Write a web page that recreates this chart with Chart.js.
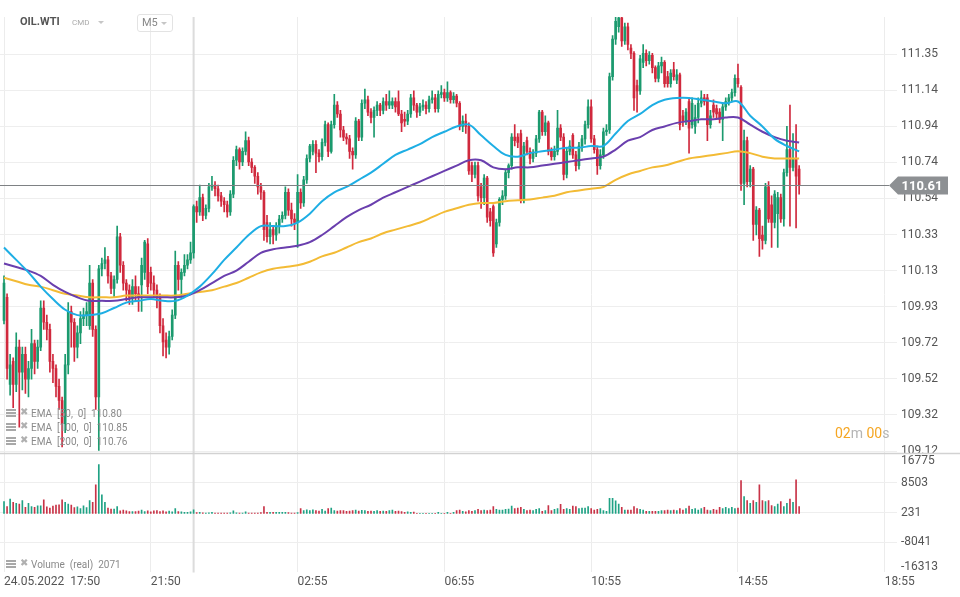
<!DOCTYPE html>
<html><head><meta charset="utf-8">
<script src="https://cdn.jsdelivr.net/npm/chart.js@4.4.0/dist/chart.umd.min.js"></script>
<style>
html,body{margin:0;padding:0;background:#fff;}
#wrap{position:relative;width:960px;height:597px;overflow:hidden;font-family:Roboto,"Noto Sans",sans-serif;}
#c{position:absolute;left:0;top:0;}
.ov{position:absolute;white-space:pre;}
.tri{position:absolute;width:0;height:0;border-left:3px solid transparent;border-right:3px solid transparent;border-top:3px solid #c6c6c6;}
.ico{position:absolute;width:10px;height:8px;background:repeating-linear-gradient(#a8a8a8 0 2px,transparent 2px 3px);}
.lg{position:absolute;white-space:pre;font-size:10px;line-height:12px;color:#8a8a8a;}
.x{position:absolute;font-size:10px;line-height:10px;color:#b0b0b0;}
</style></head><body>
<div id="wrap">
<canvas id="c" width="960" height="597"></canvas>
<div class="ov" style="left:20px;top:15px;font-weight:bold;font-size:11px;line-height:14px;color:#555;">OIL.WTI</div>
<div class="ov" style="left:72px;top:18px;font-size:8px;line-height:10px;color:#aaa;">CMD</div>
<div class="tri" style="left:98px;top:21px;"></div>
<div class="ov" style="left:137px;top:14px;width:34px;height:16px;border:1px solid #e3e3e3;border-radius:3px;"></div>
<div class="ov" style="left:142px;top:15.5px;font-size:11px;line-height:14px;color:#888;">M5</div>
<div class="tri" style="left:161px;top:22px;"></div>

<div class="ico" style="left:6px;top:409px;"></div><div class="x" style="left:20px;top:407px;">✖</div>
<div class="lg" style="left:31px;top:408px;">EMA  [50,  0]  110.80</div>
<div class="ico" style="left:6px;top:423px;"></div><div class="x" style="left:20px;top:421px;">✖</div>
<div class="lg" style="left:31px;top:422px;">EMA  [100,  0]  110.85</div>
<div class="ico" style="left:6px;top:437px;"></div><div class="x" style="left:20px;top:435px;">✖</div>
<div class="lg" style="left:31px;top:436px;">EMA  [200,  0]  110.76</div>
<div class="ico" style="left:6px;top:560px;"></div><div class="x" style="left:20px;top:558px;">✖</div>
<div class="lg" style="left:31px;top:559px;">Volume  (real)  2071</div>

<div class="ov" style="left:835px;top:425px;font-size:14px;line-height:16px;"><span style="color:#f5a623">02</span><span style="color:#b4b4b4">m </span><span style="color:#f5a623">00</span><span style="color:#b4b4b4">s</span></div>
</div>
<script>
// ---------- data ----------
const timeLabels = ["24.05.2022  17:50","21:50","02:55","06:55","10:55","14:55","18:55"];
const timeTickIndex = [0,48,96,144,192,240,288];
const daySeparatorIndex = 62;
const priceTickLabels = ["109.12","109.32","109.52","109.72","109.93","110.13","110.33","110.54","110.74","110.94","111.14","111.35"];
const priceTickBase = 109.116, priceTickStep = 0.2028;
const priceMin = 109.1025, priceMax = 111.5547;
const volumeTickLabels = ["-16313","-8041","231","8503","16775"];
const volumeTickValues = [-16313,-8041,231,8503,16775];
const volumeMin = -16313, volumeMax = 16775;
const lastPrice = 110.61;

const opens = [
109.85,109.98,109.49,109.62,109.49,109.70,109.56,109.66,109.52,109.58,
109.72,109.62,109.70,109.92,109.84,109.80,109.62,109.58,109.48,109.40,
109.27,109.60,109.90,109.84,109.70,109.78,109.86,109.88,109.82,110.06,
109.80,109.42,110.14,110.17,110.19,110.10,110.03,110.08,110.32,110.16,
110.06,110.02,109.98,110.04,110.00,110.05,110.12,110.28,110.12,110.06,
110.02,109.98,109.82,109.74,109.70,109.76,109.88,110.16,110.08,110.12,
110.16,110.19,110.23,110.49,110.46,110.54,110.44,110.48,110.60,110.61,
110.59,110.55,110.52,110.50,110.46,110.56,110.75,110.81,110.74,110.80,
110.86,110.74,110.71,110.66,110.60,110.57,110.40,110.32,110.36,110.33,
110.38,110.42,110.44,110.57,110.47,110.42,110.40,110.57,110.51,110.64,
110.76,110.80,110.84,110.79,110.77,110.85,110.95,110.80,110.95,111.06,
111.01,110.92,110.88,110.87,110.80,110.78,110.97,110.88,111.07,111.09,
111.02,110.99,111.03,111.06,111.03,111.08,111.06,111.06,111.08,111.08,
111.01,110.98,110.97,111.01,111.10,111.06,111.02,111.05,111.06,111.04,
111.09,111.10,111.04,111.12,111.13,111.10,111.13,111.09,111.11,111.07,
110.94,110.97,110.94,110.72,110.67,110.72,110.60,110.54,110.65,110.46,
110.49,110.28,110.40,110.53,110.55,110.68,110.72,110.88,110.88,110.90,
110.53,110.86,110.80,110.76,110.79,110.87,111.02,110.91,110.96,110.80,
110.77,110.80,110.93,110.88,110.67,110.80,110.89,110.78,110.72,110.83,
110.87,110.95,111.05,110.87,110.81,110.72,110.78,110.91,110.92,111.22,
111.43,111.50,111.55,111.42,111.50,111.38,111.35,111.17,111.14,111.30,
111.35,111.31,111.34,111.27,111.21,111.28,111.30,111.22,111.18,111.26,
111.20,111.23,111.00,110.97,111.08,110.95,110.94,110.99,111.07,111.10,
111.10,110.95,111.06,111.04,111.02,110.98,111.05,111.08,111.10,111.13,
111.21,111.16,110.62,110.86,110.63,110.70,110.39,110.47,110.33,110.30,
110.60,110.50,110.40,110.45,110.54,110.42,110.68,110.81,110.71,110.76,110.70];
const highs = [
110.10,110.00,109.66,109.64,109.78,109.74,109.70,109.70,109.62,109.80,
109.74,109.74,109.96,109.96,109.88,109.83,109.66,109.60,109.52,109.42,
109.66,109.95,109.93,109.86,109.82,109.90,109.92,109.95,110.16,110.08,
109.82,110.16,110.20,110.26,110.21,110.12,110.10,110.38,110.34,110.18,
110.08,110.05,110.08,110.10,110.04,110.20,110.30,110.31,110.15,110.10,
110.05,110.00,109.86,109.78,109.79,109.91,110.24,110.18,110.14,110.22,
110.22,110.29,110.50,110.52,110.61,110.56,110.50,110.62,110.66,110.63,
110.61,110.57,110.54,110.52,110.58,110.77,110.83,110.82,110.82,110.91,
110.88,110.76,110.72,110.68,110.62,110.58,110.44,110.40,110.38,110.40,
110.44,110.46,110.60,110.59,110.51,110.45,110.67,110.59,110.66,110.78,
110.84,110.86,110.86,110.81,110.87,110.97,110.96,110.97,111.12,111.08,
111.03,110.94,110.90,110.89,110.82,110.99,110.98,111.09,111.15,111.11,
111.04,111.05,111.08,111.07,111.10,111.12,111.14,111.10,111.10,111.14,
111.03,111.02,111.03,111.12,111.14,111.07,111.07,111.09,111.08,111.11,
111.14,111.12,111.14,111.17,111.15,111.19,111.14,111.13,111.12,111.08,
111.00,111.01,110.96,110.74,110.74,110.74,110.62,110.67,110.66,110.48,
110.50,110.42,110.54,110.58,110.70,110.73,110.90,110.95,110.90,110.92,
110.85,110.88,110.82,110.81,110.89,111.03,111.03,111.00,110.97,110.82,
110.83,111.03,110.95,110.90,110.82,110.86,110.90,110.80,110.85,110.89,
110.97,111.09,111.09,110.89,110.83,110.81,110.93,110.95,111.24,111.45,
111.57,111.58,111.56,111.52,111.52,111.40,111.36,111.20,111.34,111.40,
111.37,111.36,111.35,111.28,111.30,111.33,111.31,111.25,111.26,111.30,
111.26,111.24,111.03,111.04,111.10,111.10,111.06,111.10,111.14,111.12,
111.12,111.03,111.09,111.06,111.04,111.07,111.10,111.12,111.15,111.23,
111.29,111.17,110.92,110.88,110.72,110.71,110.49,110.48,110.38,110.62,
110.63,110.55,110.58,110.57,110.56,110.70,110.94,111.06,110.90,110.95,110.72];
const lows = [
109.83,109.52,109.43,109.36,109.45,109.25,109.46,109.44,109.42,109.52,
109.55,109.58,109.68,109.80,109.74,109.56,109.50,109.42,109.35,109.14,
109.22,109.55,109.70,109.62,109.64,109.72,109.82,109.82,109.80,109.76,
109.35,109.12,110.10,110.14,110.06,110.00,109.98,110.06,110.12,110.02,
109.96,109.94,109.94,109.96,109.90,109.90,110.08,110.00,110.02,109.98,
109.92,109.78,109.65,109.64,109.66,109.74,109.86,110.02,109.98,110.10,
110.14,110.17,110.20,110.40,110.44,110.41,110.42,110.46,110.58,110.55,
110.52,110.49,110.46,110.43,110.44,110.54,110.72,110.70,110.72,110.78,
110.72,110.68,110.62,110.56,110.53,110.30,110.29,110.28,110.28,110.30,
110.34,110.40,110.42,110.44,110.38,110.36,110.26,110.48,110.49,110.62,
110.74,110.78,110.68,110.74,110.75,110.83,110.77,110.79,110.93,110.99,
110.88,110.86,110.84,110.76,110.70,110.76,110.86,110.86,111.04,111.00,
110.96,110.88,111.00,111.00,111.01,111.03,111.04,111.04,111.02,111.00,
110.91,110.94,110.95,110.99,111.03,110.99,111.00,111.03,111.01,111.02,
111.07,111.02,111.02,111.10,111.08,111.08,111.07,111.07,111.05,110.92,
110.91,110.90,110.67,110.63,110.65,110.52,110.48,110.50,110.40,110.38,
110.21,110.26,110.38,110.50,110.53,110.65,110.70,110.83,110.82,110.51,
110.51,110.78,110.73,110.74,110.77,110.85,110.89,110.89,110.78,110.75,
110.75,110.78,110.86,110.64,110.65,110.78,110.76,110.69,110.70,110.80,
110.84,110.93,110.85,110.79,110.67,110.70,110.76,110.89,110.90,111.20,
111.40,111.47,111.39,111.40,111.37,111.32,111.03,111.02,111.12,111.27,
111.28,111.29,111.24,111.19,111.19,111.24,111.16,111.16,111.16,111.20,
111.18,110.92,110.94,110.95,110.79,110.93,110.90,110.96,111.05,111.06,
110.86,110.93,110.99,110.98,110.96,110.86,111.03,111.06,111.08,111.11,
111.16,110.58,110.50,110.60,110.60,110.30,110.33,110.21,110.25,110.28,
110.40,110.26,110.37,110.26,110.40,110.38,110.66,110.38,110.69,110.37,110.56];
const closes = [
110.06,109.58,109.60,109.49,109.70,109.56,109.66,109.52,109.58,109.72,
109.62,109.70,109.92,109.84,109.80,109.62,109.58,109.48,109.40,109.27,
109.60,109.90,109.84,109.70,109.78,109.86,109.88,109.90,110.06,109.80,
109.42,110.14,110.17,110.19,110.10,110.03,110.08,110.32,110.16,110.06,
110.02,109.98,110.04,110.00,109.98,110.16,110.29,110.04,110.06,110.02,
109.98,109.82,109.73,109.70,109.76,109.88,110.16,110.08,110.12,110.16,
110.19,110.23,110.49,110.46,110.54,110.44,110.48,110.60,110.61,110.59,
110.55,110.52,110.50,110.46,110.56,110.75,110.81,110.74,110.80,110.86,
110.74,110.71,110.66,110.60,110.57,110.36,110.32,110.36,110.33,110.38,
110.42,110.44,110.57,110.47,110.42,110.40,110.57,110.51,110.64,110.76,
110.83,110.84,110.79,110.77,110.85,110.95,110.80,110.95,111.06,111.01,
110.92,110.88,110.87,110.80,110.78,110.97,110.88,111.07,111.09,111.02,
110.99,111.03,111.06,111.03,111.08,111.06,111.08,111.08,111.05,111.01,
110.96,110.97,111.01,111.10,111.06,111.02,111.05,111.06,111.04,111.09,
111.10,111.04,111.12,111.13,111.10,111.13,111.09,111.11,111.07,110.94,
110.97,110.94,110.69,110.67,110.72,110.55,110.54,110.65,110.43,110.41,
110.23,110.40,110.53,110.55,110.68,110.72,110.88,110.86,110.85,110.53,
110.83,110.80,110.76,110.79,110.87,111.02,110.91,110.96,110.80,110.77,
110.80,110.93,110.88,110.67,110.80,110.83,110.78,110.72,110.83,110.87,
110.95,111.05,110.87,110.81,110.72,110.78,110.91,110.92,111.22,111.43,
111.53,111.55,111.42,111.50,111.40,111.35,111.10,111.14,111.32,111.35,
111.31,111.34,111.27,111.21,111.28,111.30,111.18,111.18,111.24,111.22,
111.23,110.95,110.97,111.02,110.93,111.07,110.99,111.07,111.10,111.08,
110.95,111.00,111.02,111.01,110.98,111.05,111.08,111.10,111.13,111.21,
111.18,110.62,110.86,110.63,110.70,110.39,110.47,110.31,110.30,110.60,
110.42,110.40,110.56,110.54,110.42,110.68,110.81,110.71,110.76,110.66,110.61];
const volumes = [
3300,1900,4000,3100,2800,2600,3600,1700,2800,1900,
1700,2100,2100,3800,1800,1500,2000,2300,2400,3800,
3100,2600,2300,1600,1800,1300,2100,1600,3600,3100,
8000,13700,5200,3100,1500,1200,1200,1900,700,900,
700,500,500,500,600,900,500,700,400,700,
800,500,700,400,600,400,1300,500,400,300,
300,400,1000,200,300,150,100,150,300,100,
80,100,80,100,150,700,150,100,100,400,
100,100,100,100,200,1900,300,300,300,300,
300,300,300,200,100,100,200,1300,750,950,
750,950,750,650,1100,650,1300,1500,750,650,
750,750,560,650,750,930,650,850,750,560,
650,560,750,560,650,560,750,930,560,650,
500,300,400,300,350,0,0,0,0,0,
0,0,250,0,0,250,0,300,750,930,
560,450,750,560,750,1100,750,930,750,900,
1900,1100,930,930,1100,1200,2000,1300,1500,1700,
1100,750,930,750,1100,1300,560,750,2200,750,
1100,1300,2500,1100,1300,1100,2000,1900,1300,1500,
1500,1900,1300,930,1100,1300,750,560,4200,4200,
3500,2600,1700,930,930,930,1900,1300,1100,930,
560,560,560,560,560,750,750,930,750,930,
750,1300,930,1300,2000,1100,1300,930,1300,1700,
930,750,1100,930,1700,1300,1700,1300,1700,1300,
1500,9200,4700,3600,2800,3600,3100,8000,3600,3300,
3600,2150,1900,2600,3300,1900,2800,4000,3100,9400,1900];
// EMA readings, one every emaStep bars
const emaStep = 4;
const ema50 = [110.26,110.19,110.12,110.04,109.97,109.91,109.88,109.88,109.89,109.92,
109.95,109.96,109.97,109.96,109.96,109.99,110.04,110.11,110.19,110.26,
110.33,110.38,110.38,110.38,110.40,110.45,110.52,110.57,110.60,110.64,
110.68,110.73,110.78,110.81,110.84,110.88,110.91,110.94,110.95,110.89,
110.83,110.78,110.77,110.79,110.80,110.81,110.82,110.82,110.83,110.83,
110.90,110.97,111.01,111.06,111.09,111.10,111.10,111.09,111.08,111.07,
111.08,111.00,110.94,110.87,110.83,110.80];
const ema100 = [110.17,110.15,110.13,110.10,110.05,110.01,109.98,109.96,109.96,109.96,
109.97,109.98,109.98,109.98,109.98,109.99,110.02,110.06,110.10,110.13,
110.18,110.23,110.25,110.26,110.27,110.29,110.33,110.38,110.43,110.47,
110.50,110.54,110.57,110.60,110.63,110.66,110.69,110.72,110.75,110.75,
110.71,110.70,110.71,110.71,110.72,110.73,110.74,110.75,110.76,110.77,
110.81,110.86,110.88,110.92,110.94,110.96,110.97,110.98,110.98,110.99,
110.99,110.95,110.91,110.88,110.86,110.85];
const ema200 = [110.09,110.07,110.05,110.04,110.02,110.00,109.99,109.98,109.98,109.98,
109.99,109.99,109.99,109.99,109.99,110.00,110.01,110.02,110.04,110.06,
110.09,110.12,110.14,110.15,110.16,110.18,110.21,110.23,110.26,110.29,
110.31,110.34,110.36,110.38,110.40,110.43,110.46,110.48,110.50,110.51,
110.51,110.52,110.525,110.53,110.54,110.55,110.57,110.58,110.59,110.60,
110.64,110.67,110.69,110.71,110.72,110.74,110.76,110.77,110.78,110.79,
110.80,110.79,110.77,110.76,110.76,110.76];

// ---------- styling ----------
const GREEN = '#1b9a6e', RED = '#d0293d';
const VGREEN = '#1fa284', VRED = '#c83347';
const isUp = i => closes[i] >= opens[i];
const FONT = 'Roboto, "Noto Sans", sans-serif';

const wickData = highs.map((h, i) => ({x: i, y: [lows[i], h]}));
const bodyData = opens.map((o, i) => ({x: i, y: [o, closes[i]]}));
const volData = volumes.map((v, i) => ({x: i, y: v}));
const emaPts = arr => arr.map((v, k) => ({x: k * emaStep, y: v}));

const overlay = {
  id: 'overlay',
  beforeDatasetsDraw(chart) {
    const {ctx, chartArea, scales: {x}} = chart;
    const px = x.getPixelForValue(daySeparatorIndex);
    ctx.save();
    ctx.strokeStyle = '#dcdcdc'; ctx.lineWidth = 2;
    ctx.beginPath(); ctx.moveTo(px, chartArea.top); ctx.lineTo(px, chartArea.bottom + 1); ctx.stroke();
    ctx.restore();
  },
  afterDraw(chart) {
    const {ctx, chartArea, scales: {y}} = chart;
    ctx.save();
    const sy = y.bottom;
    ctx.strokeStyle = '#d2d2d2'; ctx.lineWidth = 1.5;
    ctx.beginPath(); ctx.moveTo(0, sy); ctx.lineTo(chart.width, sy); ctx.stroke();
    const py = Math.round(y.getPixelForValue(lastPrice)) + 0.5;
    const tip = chartArea.right - 8;
    ctx.strokeStyle = '#7e8184'; ctx.lineWidth = 1;
    ctx.beginPath(); ctx.moveTo(0, py); ctx.lineTo(tip, py); ctx.stroke();
    ctx.fillStyle = '#8d9093';
    ctx.beginPath();
    ctx.moveTo(tip, py); ctx.lineTo(chartArea.right + 1, py - 9);
    ctx.lineTo(chartArea.right + 51, py - 9); ctx.lineTo(chartArea.right + 51, py + 9);
    ctx.lineTo(chartArea.right + 1, py + 9); ctx.closePath(); ctx.fill();
    ctx.fillStyle = '#ffffff'; ctx.font = 'bold 13px ' + FONT;
    ctx.textAlign = 'center'; ctx.textBaseline = 'middle';
    ctx.fillText(lastPrice.toFixed(2), chartArea.right + 25, py + 1);
    ctx.restore();
  }
};

new Chart(document.getElementById('c'), {
  type: 'bar',
  data: {
    datasets: [
      {type: 'line', data: emaPts(ema50), yAxisID: 'y', borderColor: '#1eaee4', borderWidth: 2, pointRadius: 0, tension: 0.35, order: 0},
      {type: 'line', data: emaPts(ema100), yAxisID: 'y', borderColor: '#6a3fae', borderWidth: 2, pointRadius: 0, tension: 0.35, order: 0},
      {type: 'line', data: emaPts(ema200), yAxisID: 'y', borderColor: '#f3bb35', borderWidth: 2, pointRadius: 0, tension: 0.35, order: 0},
      {data: bodyData, yAxisID: 'y', grouped: false, barThickness: 2, minBarLength: 1, borderWidth: 0,
       backgroundColor: ctx => isUp(ctx.dataIndex) ? GREEN : RED, order: 1},
      {data: wickData, yAxisID: 'y', grouped: false, barThickness: 1, borderWidth: 0,
       backgroundColor: ctx => isUp(ctx.dataIndex) ? GREEN : RED, order: 2},
      {data: volData, yAxisID: 'yv', grouped: false, barThickness: 1, borderWidth: 0,
       backgroundColor: ctx => isUp(ctx.dataIndex) ? VGREEN : VRED, order: 3}
    ]
  },
  options: {
    responsive: false, animation: false,
    layout: {padding: {top: 17, left: 0, right: 0, bottom: 0}},
    plugins: {legend: {display: false}, tooltip: {enabled: false}},
    scales: {
      x: {
        type: 'linear', min: -1.31, max: 292.0, offset: false,
        grid: {color: '#ececec', drawTicks: false, offset: false}, border: {display: false},
        afterBuildTicks: s => { s.ticks = timeTickIndex.map(v => ({value: v})); },
        ticks: {autoSkip: false, maxRotation: 0, align: 'start', padding: 3, color: '#555',
                font: {family: FONT, size: 12}, callback: (v, i) => timeLabels[i]},
        afterFit: s => { s.height = 25.5; }
      },
      y: {
        position: 'right', stack: 'panes', stackWeight: 436.5, min: priceMin, max: priceMax,
        grid: {color: '#eeeeee', drawTicks: false}, border: {display: false},
        afterBuildTicks: s => { s.ticks = priceTickLabels.map((_, k) => ({value: priceTickBase + k * priceTickStep})); },
        ticks: {autoSkip: false, padding: 4, color: '#555', font: {family: FONT, size: 12}, callback: (v, i) => priceTickLabels[i]},
        afterFit: s => { s.width = 63; }
      },
      yv: {
        position: 'right', stack: 'panes', stackWeight: 118, min: volumeMin, max: volumeMax,
        grid: {color: c => (c.index === 0 || c.index === volumeTickValues.length - 1) ? 'rgba(0,0,0,0)' : '#eeeeee', drawTicks: false},
        border: {display: false},
        afterBuildTicks: s => {
          const n = volumeTickValues.length;
          s.ticks = volumeTickValues.map((v, k) => ({value: k === 0 ? v + 1300 : (k === n - 1 ? v - 2100 : v)}));
        },
        ticks: {autoSkip: false, padding: 4, color: '#555', font: {family: FONT, size: 12}, callback: (v, i) => volumeTickLabels[i]},
        afterFit: s => { s.width = 63; }
      }
    }
  },
  plugins: [overlay]
});
</script>
</body></html>
